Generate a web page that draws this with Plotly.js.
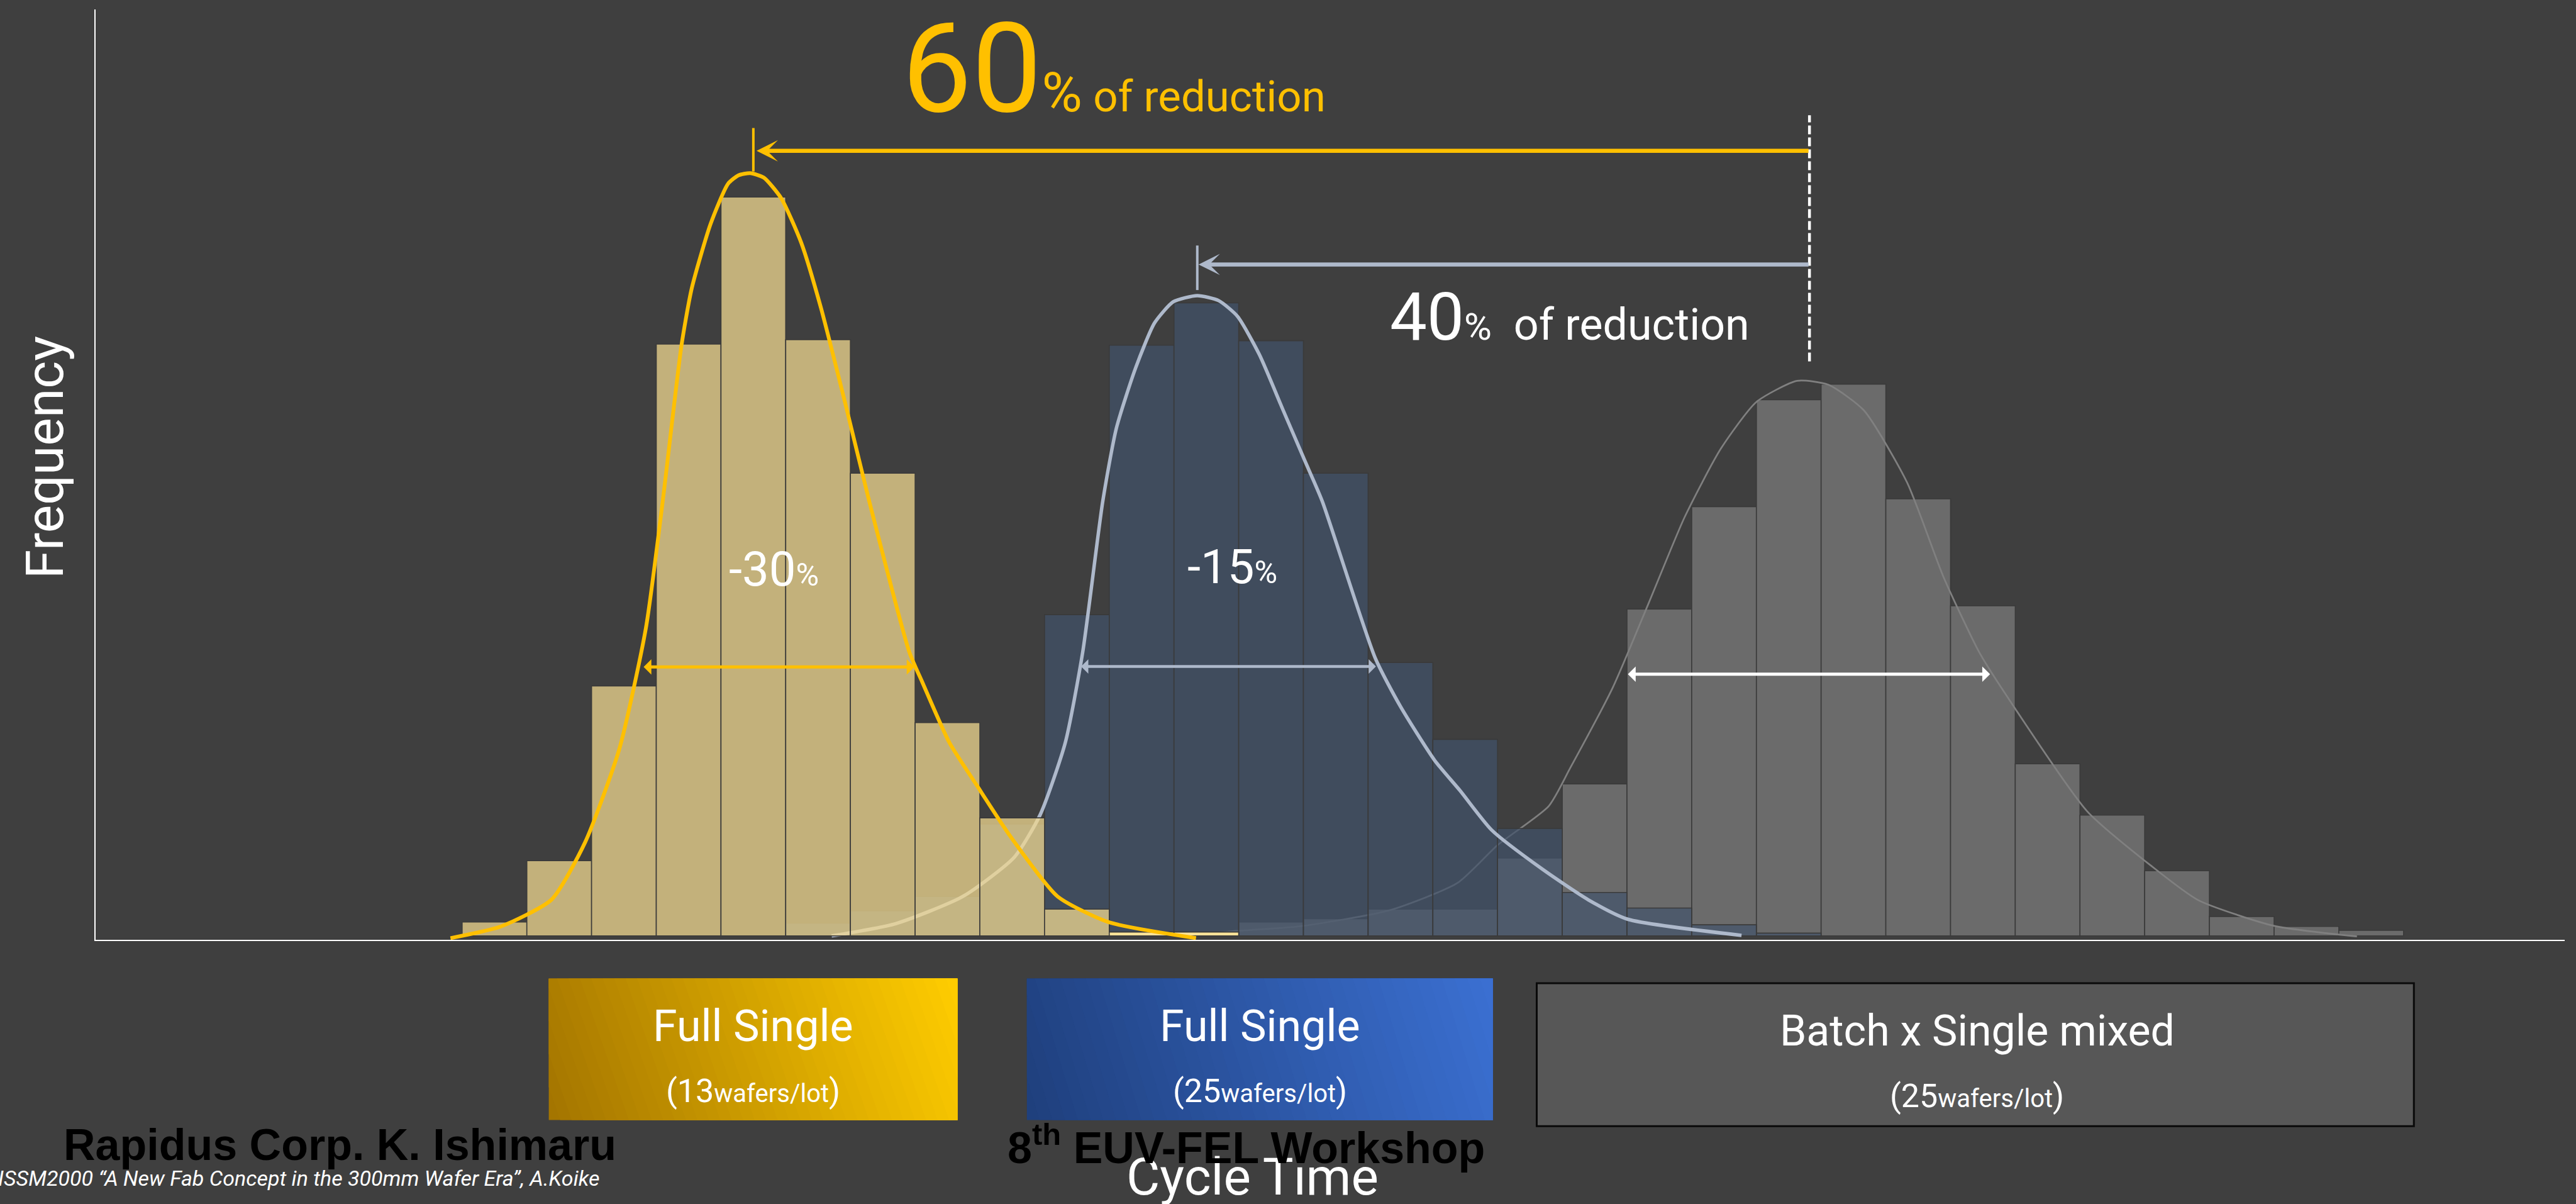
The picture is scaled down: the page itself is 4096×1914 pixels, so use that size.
<!DOCTYPE html>
<html>
<head>
<meta charset="utf-8">
<script src="https://cdn.plot.ly/plotly-3.0.1.min.js"></script>
<style>html,body{margin:0;padding:0;background:#3f3f3f;overflow:hidden}</style>
</head>
<body>
<div id="chart" style="width:4096px;height:1914px"></div>
<script>
// ---------------- DATA ----------------
// Histogram bins (cycle-time bin number) and frequencies
const yellowBins = [0, 1, 2, 3, 4, 5, 6, 7, 8, 9, 10, 11];
const yellowFreq = [2.5, 13.5, 44.9, 106.3, 132.7, 107.1, 83.1, 38.3, 21.2, 4.8, 0.7, 0.7];

const blueBins = [5, 6, 7, 8, 9, 10, 11, 12, 13, 14, 15, 16, 17, 18, 19, 20];
const blueFreq = [2.3, 4.5, 7.1, 20.1, 57.7, 106.1, 113.7, 106.9, 83.1, 49.1, 35.3, 19.3, 7.8, 5.0, 2.0, 0.5];

const grayBins = [12, 13, 14, 15, 16, 17, 18, 19, 20, 21, 22, 23, 24, 25, 26, 27, 28, 29];
const grayFreq = [2.5, 3.1, 4.8, 4.8, 14.0, 27.3, 58.7, 77.1, 96.3, 99.1, 78.5, 59.3, 30.9, 21.7, 11.7, 3.5, 1.7, 1.0];

// Fitted distribution curves
const yellowCurveX = [-0.68, 0.10, 0.88, 1.40, 1.93, 2.34, 2.60, 2.89, 3.05, 3.34, 3.61, 3.77, 3.95, 4.16, 4.43, 4.74, 5.04, 5.43, 5.79, 6.41, 6.61, 7.03, 7.45, 7.97, 8.70, 9.48, 10.84];
const yellowCurveY = [-0.4, 1.7, 6.5, 16.8, 33.6, 55.3, 78.1, 106.1, 116.4, 127.9, 135.1, 136.6, 137.0, 136.2, 132.5, 124.5, 113.0, 95.2, 78.1, 51.0, 45.6, 34.7, 27.1, 17.9, 7.1, 2.5, -0.4];

const blueCurveX = [5.21, 6.20, 7.24, 8.03, 8.43, 8.82, 9.09, 9.40, 9.61, 9.91, 10.20, 10.49, 10.86, 11.19, 11.48, 11.82, 12.18, 12.52, 12.79, 13.61, 14.00, 14.53, 14.92, 15.41, 16.19, 16.90, 17.51, 19.27];
const blueCurveY = [0, 2.2, 7.1, 14.1, 21.7, 34.7, 51.0, 78.1, 91.2, 102.1, 110.1, 113.9, 115.0, 114.1, 111.3, 104.4, 94.6, 85.4, 78.1, 49.9, 41.2, 31.5, 26.1, 19.0, 12.0, 6.5, 3.0, 0.1];

const grayCurveX = [10.85, 11.47, 12.43, 13.83, 14.88, 15.50, 16.29, 16.62, 17.28, 17.84, 18.39, 18.95, 19.50, 20.13, 20.61, 21.16, 21.83, 22.39, 22.95, 23.50, 24.61, 25.61, 26.33, 27.50, 28.78];
const grayCurveY = [0.2, 0.9, 1.7, 4.6, 9.5, 16.3, 23.3, 30.1, 44.6, 59.9, 75.2, 87.5, 95.9, 99.7, 99.0, 94.4, 81.4, 64.5, 50.8, 40.8, 22.4, 12.5, 6.4, 1.8, -0.1];

// Peak / width markers (bin units, frequency units)
const peakYellow = 4.00, peakBlue = 10.86, peakGray = 20.32;
const fwhmYellow = [2.29, 6.49], fwhmBlue = [9.05, 13.62], fwhmGray = [17.50, 23.11];

// Text
const labelYellow = ['Full Single', '13', 'wafers/lot'];
const labelBlue = ['Full Single', '25', 'wafers/lot'];
const labelGray = ['Batch x Single mixed', '25', 'wafers/lot'];

// ---------------- LAYOUT HELPERS ----------------
const ML = 152, MT = 15, PW = 3926, PH = 1479;
const SC = 0.885;
const pxX = X => (X * SC - ML) / PW;          // reference px -> paper
const pxY = Y => (MT + PH - Y * SC) / PH;
const tX = x => (x - ML) / PW;                 // target px -> paper
const tY = y => (MT + PH - y) / PH;

const COND = "Roboto, 'Noto Sans', sans-serif";
const DIN = "Roboto, 'Noto Sans', sans-serif";
const ARIAL = "'Liberation Sans', Arial, sans-serif";

const BG = '#3f3f3f';
const YEL = '#ffc000';
const LBLUE = '#aeb9cb';
const EDGE = '#3a3a3a';

// ---------------- TRACES ----------------
const traces = [
  { type: 'bar', x: grayBins, y: grayFreq, width: 1, xaxis: 'x', yaxis: 'y',
    marker: { color: '#6b6b6b', line: { color: EDGE, width: 1.6 } }, hoverinfo: 'skip' },
  { type: 'scatter', mode: 'lines', x: grayCurveX, y: grayCurveY, xaxis: 'x', yaxis: 'y',
    line: { color: '#808080', width: 2.7, shape: 'spline', smoothing: 0.6 }, hoverinfo: 'skip' },

  { type: 'bar', x: blueBins, y: blueFreq, width: 1, xaxis: 'x2', yaxis: 'y2',
    marker: { color: 'rgba(66,83,107,0.7)', line: { color: EDGE, width: 1.6 } }, hoverinfo: 'skip' },
  { type: 'scatter', mode: 'lines', x: blueCurveX, y: blueCurveY, xaxis: 'x2', yaxis: 'y2',
    line: { color: LBLUE, width: 5.5, shape: 'spline', smoothing: 0.6 }, hoverinfo: 'skip' },

  { type: 'bar', x: yellowBins, y: yellowFreq, width: 1, xaxis: 'x3', yaxis: 'y3',
    marker: { color: yellowBins.map(k => k >= 10 ? 'rgb(250,226,152)' : 'rgba(240,216,144,0.75)'),
              line: { color: EDGE, width: 1.6 } }, hoverinfo: 'skip' },
  { type: 'scatter', mode: 'lines', x: yellowCurveX, y: yellowCurveY, xaxis: 'x3', yaxis: 'y3',
    line: { color: YEL, width: 6, shape: 'spline', smoothing: 0.6 }, hoverinfo: 'skip' }
];

// ---------------- SHAPES ----------------
function clipHalf(poly, f) {
  const out = [];
  for (let i = 0; i < poly.length; i++) {
    const a = poly[i], b = poly[(i + 1) % poly.length];
    const fa = f(a), fb = f(b);
    if (fa >= 0) out.push(a);
    if ((fa >= 0) !== (fb >= 0)) {
      const t = fa / (fa - fb);
      out.push([a[0] + t * (b[0] - a[0]), a[1] + t * (b[1] - a[1])]);
    }
  }
  return out;
}
function gradientBox(X0, Y0, X1, Y1, c0, c1, n) {
  const x0 = X0 * SC, y0 = Y0 * SC, x1 = X1 * SC, y1 = Y1 * SC;
  const dx = x1 - x0, dy = y0 - y1, dd = dx * dx + dy * dy;
  const rect = [[x0, y0], [x1, y0], [x1, y1], [x0, y1]];
  const res = [];
  for (let i = 0; i < n; i++) {
    const ti = i / n;
    const poly = i === 0 ? rect : clipHalf(rect, p => ((p[0] - x0) * dx + (p[1] - y1) * dy) / dd - ti);
    if (poly.length < 3) continue;
    const tm = (i + 0.5) / n;
    const col = 'rgb(' + [0, 1, 2].map(j => Math.round(c0[j] + (c1[j] - c0[j]) * tm)).join(',') + ')';
    const path = 'M' + poly.map(p => tX(p[0]).toFixed(6) + ',' + tY(p[1]).toFixed(6)).join('L') + 'Z';
    res.push({ type: 'path', xref: 'paper', yref: 'paper', path: path, fillcolor: col,
               line: { width: 0 }, layer: 'above' });
  }
  return res;
}

const shapes = [
  // peak ticks
  { type: 'line', xref: 'x', yref: 'y', x0: peakYellow, x1: peakYellow, y0: 137.3, y1: 145.1,
    line: { color: YEL, width: 4 } },
  { type: 'line', xref: 'x', yref: 'y', x0: peakBlue, x1: peakBlue, y0: 116.0, y1: 124.0,
    line: { color: LBLUE, width: 4 } },
  // dashed reference at batch peak
  { type: 'line', xref: 'x', yref: 'y', x0: peakGray, x1: peakGray, y0: 103.2, y1: 147.4,
    line: { color: '#ffffff', width: 4.5, dash: '14px,5px' } },
  // gray box
  { type: 'rect', xref: 'paper', yref: 'paper', x0: pxX(2761), x1: pxX(4337), y0: pxY(2023), y1: pxY(1766),
    fillcolor: '#575757', line: { color: '#0a0a0a', width: 3 }, layer: 'above' }
].concat(
  gradientBox(986, 1758, 1720, 2012, [163, 116, 0], [255, 205, 0], 40),
  gradientBox(1845, 1758, 2682, 2012, [31, 63, 124], [59, 112, 210], 40)
);

// ---------------- ANNOTATIONS ----------------
function arrow(xHead, y, xTail, color, width, head, size, both) {
  const a = { xref: 'x', yref: 'y', axref: 'x', ayref: 'y', x: xHead, y: y, ax: xTail, ay: y,
    text: '', showarrow: true, arrowcolor: color, arrowwidth: width, arrowhead: head, arrowsize: size };
  if (both) { a.arrowside = 'end+start'; a.startarrowhead = head; a.startarrowsize = size; }
  return a;
}

const annotations = [
  arrow(peakYellow + 0.05, 141.0, peakGray, YEL, 6.5, 3, 0.87, false),
  arrow(peakBlue + 0.02, 120.6, peakGray, LBLUE, 6.5, 3, 0.87, false),
  arrow(fwhmYellow[1], 48.3, fwhmYellow[0], YEL, 5, 1, 0.82, true),
  arrow(fwhmBlue[1], 48.4, fwhmBlue[0], LBLUE, 4.5, 1, 0.85, true),
  arrow(fwhmGray[1], 47.0, fwhmGray[0], '#ffffff', 5, 1, 0.82, true),

  { xref: 'x', yref: 'y', x: 6.28, y: 155.8, xanchor: 'left', yanchor: 'middle', showarrow: false,
    text: '<span style="font-size:198px">60</span><span style="font-size:88px">%</span> of reduction',
    font: { family: COND, size: 69, color: YEL } },
  { xref: 'x', yref: 'y', x: 13.82, y: 111.15, xanchor: 'left', yanchor: 'middle', showarrow: false,
    text: '<span style="font-size:105px">40</span><span style="font-size:60px">%</span>&nbsp; of reduction',
    font: { family: COND, size: 70, color: '#ffffff' } },
  { xref: 'x', yref: 'y', x: 4.316, y: 65.9, xanchor: 'center', yanchor: 'middle', showarrow: false,
    text: '-30<span style="font-size:50px">%</span>', font: { family: COND, size: 76, color: '#ffffff' } },
  { xref: 'x', yref: 'y', x: 11.40, y: 66.3, xanchor: 'center', yanchor: 'middle', showarrow: false,
    text: '-15<span style="font-size:50px">%</span>', font: { family: COND, size: 76, color: '#ffffff' } },

  // box labels
  { xref: 'paper', yref: 'paper', x: pxX(1353), y: pxY(1843), xanchor: 'center', yanchor: 'middle', showarrow: false,
    text: labelYellow[0], font: { family: DIN, size: 70, color: '#ffffff' } },
  { xref: 'paper', yref: 'paper', x: pxX(1353), y: pxY(1960), xanchor: 'center', yanchor: 'middle', showarrow: false,
    text: '(' + labelYellow[1] + '<span style="font-size:40px">' + labelYellow[2] + '</span>)',
    font: { family: DIN, size: 52, color: '#ffffff' } },
  { xref: 'paper', yref: 'paper', x: pxX(2264), y: pxY(1843), xanchor: 'center', yanchor: 'middle', showarrow: false,
    text: labelBlue[0], font: { family: DIN, size: 70, color: '#ffffff' } },
  { xref: 'paper', yref: 'paper', x: pxX(2264), y: pxY(1960), xanchor: 'center', yanchor: 'middle', showarrow: false,
    text: '(' + labelBlue[1] + '<span style="font-size:40px">' + labelBlue[2] + '</span>)',
    font: { family: DIN, size: 52, color: '#ffffff' } },
  { xref: 'paper', yref: 'paper', x: pxX(3552), y: pxY(1852), xanchor: 'center', yanchor: 'middle', showarrow: false,
    text: labelGray[0], font: { family: DIN, size: 68, color: '#ffffff' } },
  { xref: 'paper', yref: 'paper', x: pxX(3552), y: pxY(1969), xanchor: 'center', yanchor: 'middle', showarrow: false,
    text: '(' + labelGray[1] + '<span style="font-size:40px">' + labelGray[2] + '</span>)',
    font: { family: DIN, size: 52, color: '#ffffff' } },

  // axis titles
  { xref: 'paper', yref: 'paper', x: pxX(2250), y: pxY(2114), xanchor: 'center', yanchor: 'middle', showarrow: false,
    text: 'Cycle Time', font: { family: DIN, size: 82, color: '#ffffff' } },
  { xref: 'paper', yref: 'paper', x: pxX(80.5), y: pxY(821.5), xanchor: 'center', yanchor: 'middle', showarrow: false,
    textangle: -90, text: 'Frequency', font: { family: DIN, size: 84, color: '#ffffff' } },

  // footer
  { xref: 'paper', yref: 'paper', x: pxX(112), y: pxY(2057), xanchor: 'left', yanchor: 'middle', showarrow: false,
    text: '<b>Rapidus Corp. K. Ishimaru</b>', font: { family: ARIAL, size: 70, color: '#000000' } },
  { xref: 'paper', yref: 'paper', x: pxX(1808), y: pxY(2057), xanchor: 'left', yanchor: 'middle', showarrow: false,
    text: '<b>8<sup>th</sup> EUV-FEL Workshop</b>', font: { family: ARIAL, size: 70, color: '#000000' } },
  { xref: 'paper', yref: 'paper', x: pxX(-6), y: pxY(2116), xanchor: 'left', yanchor: 'middle', showarrow: false,
    text: '<i>ISSM2000 “A New Fab Concept in the 300mm Wafer Era”, A.Koike</i>',
    font: { family: DIN, size: 34, color: '#ffffff' } }
];

// ---------------- AXES ----------------
const xr = [-6.164, 31.99], yr = [-0.7, 166.4];
const baseX = { range: xr, showgrid: false, zeroline: false, showticklabels: false, ticks: '', fixedrange: true };
const baseY = { range: yr, showgrid: false, zeroline: false, showticklabels: false, ticks: '', fixedrange: true };

const layout = {
  width: 4096, height: 1914,
  margin: { l: ML, r: 4096 - ML - PW, t: MT, b: 1914 - MT - PH, pad: 0 },
  paper_bgcolor: BG, plot_bgcolor: BG,
  showlegend: false,
  bargap: 0,
  font: { family: DIN, color: '#ffffff' },
  xaxis: Object.assign({}, baseX, { showline: true, linecolor: '#ffffff', linewidth: 2, anchor: 'y' }),
  yaxis: Object.assign({}, baseY, { showline: true, linecolor: '#ffffff', linewidth: 2, anchor: 'x' }),
  xaxis2: Object.assign({}, baseX, { overlaying: 'x', anchor: 'y2', visible: false }),
  yaxis2: Object.assign({}, baseY, { overlaying: 'y', anchor: 'x2', visible: false }),
  xaxis3: Object.assign({}, baseX, { overlaying: 'x', anchor: 'y3', visible: false }),
  yaxis3: Object.assign({}, baseY, { overlaying: 'y', anchor: 'x3', visible: false }),
  shapes: shapes,
  annotations: annotations
};

Plotly.newPlot('chart', traces, layout, { staticPlot: true, displayModeBar: false });
</script>
</body>
</html>
